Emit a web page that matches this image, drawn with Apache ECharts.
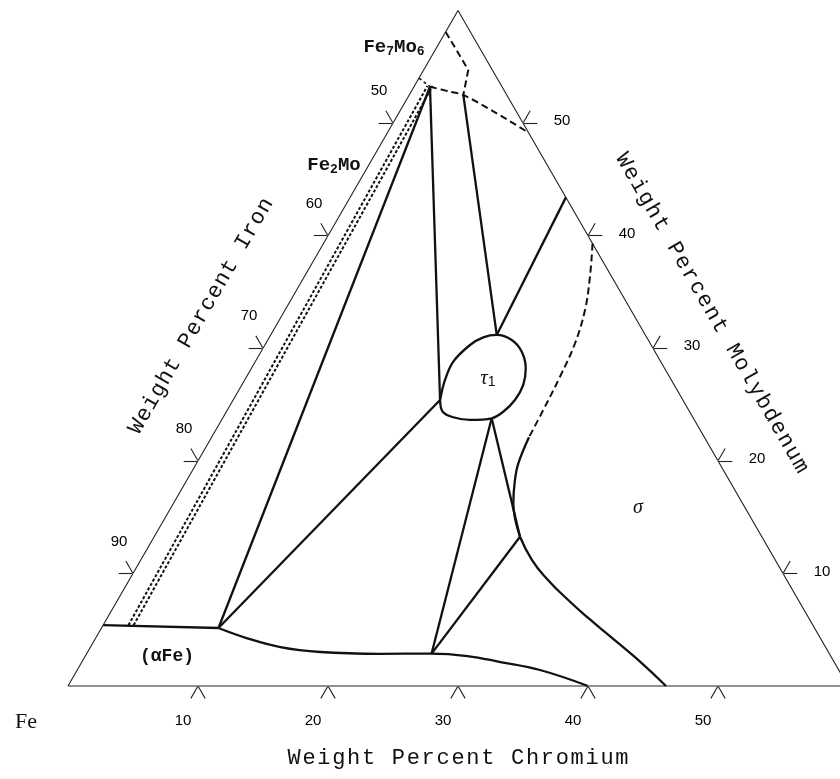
<!DOCTYPE html>
<html><head><meta charset="utf-8">
<script src="https://cdn.jsdelivr.net/npm/echarts@6/dist/echarts.min.js"></script>
<style>html,body{margin:0;padding:0;background:#fff}#c{width:840px;height:779px}</style>
</head><body><div id="c"></div>
<script>
// ---------- data: compositions as [wt% Cr, wt% Mo] (balance Fe) ----------
const crTicks = [10, 20, 30, 40, 50];
const feTicks = [50, 60, 70, 80, 90];
const moTicks = [10, 20, 30, 40, 50];
const outline = [[0, 0], [60, 0], [0, 60], [0, 0]];

const alphaFeEdge = [[0, 5.4], [9.0, 5.15]];
const alphaFeCurve = [[9.0, 5.15], [11.6, 4.26], [14.6, 3.46], [17.9, 3.02], [22.6, 2.86], [26.5, 2.88], [29.4, 2.66], [32.2, 2.13], [35.6, 1.42], [40.0, 0]];

const fe2moBoundaryA = [[1.95, 5.4], [1.0, 53.3]];
const fe2moBoundaryB = [[2.35, 5.4], [1.4, 53.3]];

const fe7mo6Upper = [[0, 58.1], [3.43, 54.72], [4.16, 52.5]];
const fe7mo6Lower = [[1.23, 53.23], [2.99, 52.79], [4.16, 52.5], [7.54, 50.87], [10.85, 49.15]];
const fe7mo6Edge = [[0, 54.0], [1.23, 53.23]];

const tau1Loop = [[15.92, 25.4], [15.41, 27.18], [15.23, 28.81], [15.78, 30.29], [16.46, 30.97], [17.39, 31.18],
  [18.77, 30.73], [20.06, 29.69], [21.1, 28.22], [21.65, 26.74], [21.68, 25.4], [21.3, 24.36], [20.7, 23.78],
  [19.11, 23.63], [17.7, 23.87], [16.64, 24.36], [15.92, 25.4]];

const sigmaDashed = [[20.7, 39.3], [21.97, 36.36], [23.07, 33.4], [23.78, 30.44], [24.11, 27.47], [24.3, 24.52], [24.41, 22.1]];
const sigmaSolidUpper = [[24.41, 22.1], [24.75, 19.78], [25.23, 18.3], [26.14, 16.23], [28.14, 13.26]];
const sigmaSolidLower = [[28.14, 13.26], [30.1, 11.19], [32.21, 9.42], [34.4, 7.82], [36.86, 6.13], [39.6, 4.35], [42.57, 2.4], [46.0, 0]];

const tieLines = [
  [[1.23, 53.23], [9.0, 5.15]],
  [[1.23, 53.23], [15.92, 25.4]],
  [[9.0, 5.15], [15.92, 25.4]],
  [[4.16, 52.5], [17.39, 31.18]],
  [[17.39, 31.18], [16.6, 43.4]],
  [[20.7, 23.78], [26.53, 2.88]],
  [[20.7, 23.78], [28.14, 13.26]],
  [[26.53, 2.88], [28.14, 13.26]]
];

// ---------- ternary -> cartesian (equilateral) ----------
const S3 = Math.sqrt(3) / 2;
const xy = p => [p[0] + p[1] / 2, p[1] * S3];
const pts = arr => arr.map(xy);
const TL = 1.1; // tick length in wt%
const X_MAX = 59.35;     // visible part of the horizontal scale
const PX = 13;           // px per wt%

const tickSegs = [];
crTicks.forEach(c => { tickSegs.push([[c, 0], [c, -TL]], [[c, 0], [c + TL, -TL]]); });
feTicks.forEach(f => { const m = 100 - f; tickSegs.push([[0, m], [-TL, m]], [[0, m], [-TL, m + TL]]); });
moTicks.forEach(m => { const c = 60 - m; tickSegs.push([[c, m], [c + TL, m]], [[c, m], [c, m + TL]]); });

const INK = '#111';
function lineSeries(data, opts) {
  return Object.assign({
    type: 'line', data: pts(data), symbol: 'none', showSymbol: false, silent: true,
    animation: false, clip: false, z: 3,
    lineStyle: { color: INK, width: 2.3 }
  }, opts || {});
}
function labelSeries(data, offset) {
  return {
    type: 'scatter', data: data, symbolSize: 1, silent: true, animation: false, clip: false, z: 5,
    itemStyle: { color: '#fff', opacity: 1 },
    label: { show: true, position: 'inside', offset: offset, formatter: p => p.value[2],
      color: '#000', opacity: 1, textBorderWidth: 0, textShadowBlur: 0,
      fontFamily: '"Liberation Sans", Arial, sans-serif', fontSize: 15 }
  };
}

function spacedText(str, cx, cy, deg, pitch, font) {
  const a = deg * Math.PI / 180, dx = Math.cos(a), dy = -Math.sin(a);
  const n = str.length, out = [];
  for (let i = 0; i < n; i++) {
    const ch = str[i];
    if (ch === ' ') continue;
    const t = i - (n - 1) / 2;
    out.push({ type: 'text', x: cx + t * pitch * dx, y: cy + t * pitch * dy, rotation: a, silent: true,
      style: { text: ch, font: font, fill: INK, align: 'center', verticalAlign: 'middle', textAlign: 'center', textVerticalAlign: 'middle' } });
  }
  return out;
}

const titleFont = '22px "Liberation Mono", monospace';
const monoBold = '"Liberation Mono", monospace';
const C = { align: 'center', verticalAlign: 'middle', textAlign: 'center', textVerticalAlign: 'middle' };
const graphics = [].concat(
  spacedText('Weight Percent Chromium', 458, 758, 0, 14.9, titleFont),
  spacedText('Weight Percent Iron', 201, 316, 60, 14.2, titleFont),
  spacedText('Weight Percent Molybdenum', 712, 313, -60, 14.7, titleFont),
  [
    { type: 'text', x: 26, y: 722, silent: true, style: Object.assign({ text: 'Fe', font: '22px "Liberation Serif", serif', fill: INK }, C) },
    { type: 'text', x: 167, y: 656, silent: true, style: Object.assign({ text: '(αFe)', font: 'bold 18px ' + monoBold, fill: INK }, C) },
    { type: 'text', x: 638, y: 508, silent: true, style: Object.assign({ text: 'σ', font: 'italic 20px "Liberation Serif", serif', fill: INK }, C) },
    { type: 'text', x: 488, y: 378, silent: true, style: Object.assign({ text: '{t|τ}{s|1}',
        rich: { t: { font: 'italic 21px "Liberation Serif", serif', fill: INK, lineHeight: 22 }, s: { font: '14px "Liberation Sans", sans-serif', fill: INK, lineHeight: 14, verticalAlign: 'bottom', padding: [8, 0, 0, 0] } } }, C) },
    { type: 'text', x: 394, y: 47, silent: true, style: Object.assign({ text: '{b|Fe}{s|7}{b|Mo}{s|6}',
        rich: { b: { font: 'bold 19px ' + monoBold, fill: INK, lineHeight: 22 }, s: { font: 'bold 13px ' + monoBold, fill: INK, lineHeight: 13, verticalAlign: 'bottom', padding: [8, 0, 0, 0] } } }, C) },
    { type: 'text', x: 334, y: 165, silent: true, style: Object.assign({ text: '{b|Fe}{s|2}{b|Mo}',
        rich: { b: { font: 'bold 19px ' + monoBold, fill: INK, lineHeight: 22 }, s: { font: 'bold 13px ' + monoBold, fill: INK, lineHeight: 13, verticalAlign: 'bottom', padding: [8, 0, 0, 0] } } }, C) }
  ]
);

const chart = echarts.init(document.getElementById('c'), null, { renderer: 'canvas' });
chart.setOption({
  animation: false,
  backgroundColor: '#fff',
  grid: { left: 68, top: 686 - 60 * S3 * PX, width: X_MAX * PX, height: 60 * S3 * PX, containLabel: false, outerBoundsMode: 'none' },
  xAxis: { type: 'value', min: 0, max: X_MAX, show: false },
  yAxis: { type: 'value', min: 0, max: 60 * S3, show: false },
  series: [
    lineSeries(outline, { lineStyle: { color: '#222', width: 1.1 }, z: 2 }),
    {
      type: 'lines', coordinateSystem: 'cartesian2d', silent: true, animation: false, clip: false, z: 2,
      lineStyle: { color: '#222', width: 1.1, opacity: 1 },
      data: tickSegs.map(s => ({ coords: s.map(xy) }))
    },
    {
      type: 'lines', coordinateSystem: 'cartesian2d', silent: true, animation: false, clip: false, z: 3,
      lineStyle: { color: INK, width: 2.3, opacity: 1 },
      data: tieLines.map(s => ({ coords: s.map(xy) }))
    },
    lineSeries(alphaFeEdge),
    lineSeries(alphaFeCurve, { smooth: 0.4 }),
    lineSeries(fe2moBoundaryA, { lineStyle: { color: INK, width: 2, type: [3, 2] } }),
    lineSeries(fe2moBoundaryB, { lineStyle: { color: INK, width: 2, type: [3, 2] } }),
    lineSeries(fe7mo6Upper, { lineStyle: { color: INK, width: 2, type: [7, 4] } }),
    lineSeries(fe7mo6Lower, { smooth: 0.3, lineStyle: { color: INK, width: 2, type: [7, 4] } }),
    lineSeries(fe7mo6Edge, { lineStyle: { color: INK, width: 1.6, type: [3, 3] } }),
    lineSeries(tau1Loop, { smooth: 0.35 }),
    lineSeries(sigmaDashed, { smooth: 0.4, lineStyle: { color: INK, width: 2, type: [7, 4] } }),
    lineSeries(sigmaSolidUpper, { smooth: 0.4 }),
    lineSeries(sigmaSolidLower, { smooth: 0.5 }),
    labelSeries(crTicks.map(c => xy([c, 0]).concat([String(c)])), [-15, 35]),
    labelSeries(feTicks.map(f => xy([0, 100 - f]).concat([String(f)])), [-14, -32]),
    labelSeries(moTicks.map(m => xy([60 - m, m]).concat([String(m)])), [39, -2])
  ],
  graphic: { elements: graphics }
});
</script></body></html>
